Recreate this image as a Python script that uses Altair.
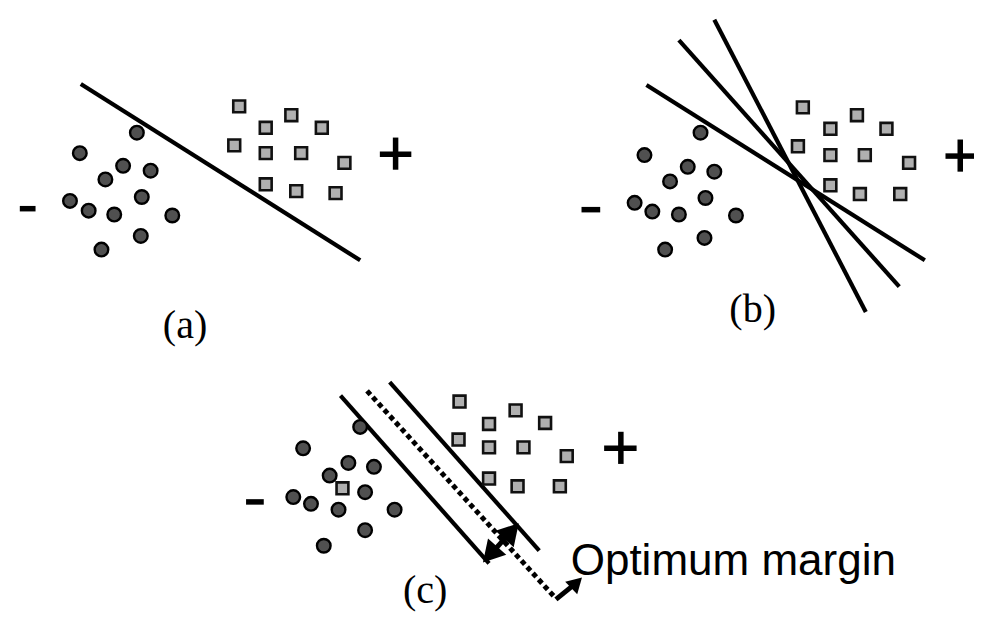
import altair as alt
import pandas as pd

# ---- data (reference pixel coordinates) ----
# panel (a)
circ_a_x = [131, 73, 117, 145, 99, 136, 63, 82, 108, 167, 135, 95]
circ_a_y = [128, 149, 162, 167, 176, 194, 198, 208, 212, 213, 234, 248]
sq_a_x = [235, 288, 262, 319, 230, 262, 298, 342, 262, 293, 333]
sq_a_y = [101, 110, 123, 123, 141, 149, 149, 159, 181, 188, 190]
# panel (b)
circ_b_x = [704, 647, 691, 718, 673, 709, 637, 655, 682, 740, 708, 668]
circ_b_y = [128, 151, 163, 168, 178, 195, 200, 209, 212, 213, 236, 248]
sq_b_x = [808, 863, 836, 893, 803, 836, 871, 916, 836, 866, 907]
sq_b_y = [102, 110, 124, 124, 142, 151, 151, 159, 182, 191, 191]
# panel (c)
circ_c_x = [358, 300, 346, 372, 327, 363, 290, 308, 336, 393, 363, 321]
circ_c_y = [430, 452, 467, 471, 480, 497, 502, 509, 515, 515, 536, 552]
sq_c_x = [459, 516, 489, 546, 458, 489, 524, 568, 489, 518, 561, 340]
sq_c_y = [404, 413, 427, 426, 443, 451, 451, 460, 483, 491, 491, 493]

# separating lines: x1, y1, x2, y2
solid_x1 = [74, 649, 682, 718, 338, 388]
solid_y1 = [78, 79, 33, 12, 398, 384]
solid_x2 = [358, 932, 906, 872, 489, 540]
solid_y2 = [259, 259, 286, 312, 570, 557]
dot_x1, dot_y1, dot_x2, dot_y2 = [365], [393], [555], [604]

# class signs (bars): minus and plus
sign_x1 = [12, 583, 242, 378, 394, 953, 968, 606, 623]
sign_y1 = [206, 207, 507, 150, 133, 152, 135, 452, 435]
sign_x2 = [28, 602, 260, 410, 394, 982, 968, 639, 623]
sign_y2 = [206, 207, 507, 150, 166, 152, 168, 452, 468]

# arrows: shafts and heads
shaft_x1 = [494, 557]
shaft_y1 = [557, 607]
shaft_x2 = [508, 573]
shaft_y2 = [541, 594]
head_x = [512, 490, 578]
head_y = [537, 561, 590]
head_angle = [42, 222, 46]
head_size = [600, 600, 300]

# labels
lab_text = ["(a)", "(b)", "(c)"]
lab_x = [180, 757, 424]
lab_y = [326, 310, 598]
note_text = ["Optimum margin"]
note_x = [572]
note_y = [582]

# ---- build ----
xs = alt.Scale(domain=[0, 983], nice=False, zero=False)
ys = alt.Scale(domain=[0, 620], nice=False, zero=False, reverse=True)


def X(f="x"):
    return alt.X(f"{f}:Q", scale=xs, axis=None)


def Y(f="y"):
    return alt.Y(f"{f}:Q", scale=ys, axis=None)


circles = pd.DataFrame({"x": circ_a_x + circ_b_x + circ_c_x,
                        "y": circ_a_y + circ_b_y + circ_c_y})
squares = pd.DataFrame({"x": sq_a_x + sq_b_x + sq_c_x,
                        "y": sq_a_y + sq_b_y + sq_c_y})
solid = pd.DataFrame({"x": solid_x1, "y": solid_y1, "x2": solid_x2, "y2": solid_y2})
dotted = pd.DataFrame({"x": dot_x1, "y": dot_y1, "x2": dot_x2, "y2": dot_y2})
signs = pd.DataFrame({"x": sign_x1, "y": sign_y1, "x2": sign_x2, "y2": sign_y2})
shafts = pd.DataFrame({"x": shaft_x1, "y": shaft_y1, "x2": shaft_x2, "y2": shaft_y2})
heads = pd.DataFrame({"x": head_x, "y": head_y, "a": head_angle, "s": head_size})
labels = pd.DataFrame({"x": lab_x, "y": lab_y, "t": lab_text})
note = pd.DataFrame({"x": note_x, "y": note_y, "t": note_text})

rule_enc = dict(x=X(), y=Y(), x2="x2:Q", y2="y2:Q")

l_solid = alt.Chart(solid).mark_rule(color="black", strokeWidth=4.2).encode(**rule_enc)
l_dot = alt.Chart(dotted).mark_rule(color="black", strokeWidth=5, strokeDash=[5, 3.5]).encode(**rule_enc)
l_signs = alt.Chart(signs).mark_rule(color="black", strokeWidth=5.5).encode(**rule_enc)
l_shafts = alt.Chart(shafts).mark_rule(color="black", strokeWidth=5).encode(**rule_enc)
l_heads = alt.Chart(heads).mark_point(shape="triangle-up", filled=True, color="black", opacity=1).encode(
    x=X(), y=Y(), angle=alt.Angle("a:Q", scale=None), size=alt.Size("s:Q", scale=None))
l_circ = alt.Chart(circles).mark_point(shape="circle", filled=True, fill="#505050", stroke="black",
                                       strokeWidth=2.4, size=185, opacity=1).encode(x=X(), y=Y())
l_sq = alt.Chart(squares).mark_point(shape="square", filled=True, fill="#b0b0b0", stroke="#111111",
                                     strokeWidth=2.6, size=140, opacity=1).encode(x=X(), y=Y())
l_lab = alt.Chart(labels).mark_text(font="Liberation Serif", fontSize=40, color="black",
                                    align="center", baseline="middle").encode(x=X(), y=Y(), text="t:N")
l_note = alt.Chart(note).mark_text(font="Liberation Sans", fontSize=44, color="black",
                                   align="left", baseline="alphabetic").encode(x=X(), y=Y(), text="t:N")

chart = alt.layer(l_solid, l_dot, l_signs, l_shafts, l_heads, l_circ, l_sq, l_lab, l_note).properties(
    width=967, height=604, autosize=alt.AutoSizeParams(type="none"), padding=0
).configure_view(strokeWidth=0, stroke="transparent", fill="white")

chart.save("out.html", embed_options={"renderer": "svg", "actions": False})
